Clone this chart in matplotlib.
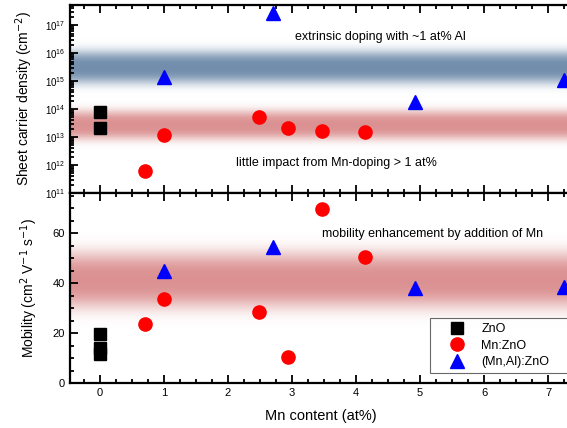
import numpy as np
import matplotlib.pyplot as plt
from matplotlib.ticker import LogLocator, MultipleLocator, FixedLocator, NullFormatter

plt.rcParams['font.family'] = ['Liberation Sans', 'DejaVu Sans']

# ZnO reference films
zno_x = [0, 0]
zno_n = [8.0e13, 2.1e13]
zno_mu_x = [0, 0, 0]
zno_mu = [19.5, 14.0, 11.5]

# Mn:ZnO
mn_x = [0.7, 1.0, 2.48, 2.93, 3.47, 4.14]
mn_n = [6.0e11, 1.2e13, 5.0e13, 2.1e13, 1.6e13, 1.5e13]
mn_mu = [23.6, 33.6, 28.4, 10.4, 69.6, 50.4]

# (Mn,Al):ZnO
mnal_x = [1.0, 2.7, 4.92, 7.25]
mnal_n = [1.4e15, 2.7e17, 1.8e14, 1.1e15]
mnal_mu = [44.8, 54.4, 38.0, 38.4]

# shaded guide bands: (center, half width) in decades / mobility units
blue_band_n = (10**15.5, 0.58)
red_band_n = (10**13.43, 0.52)
red_band_mu = (41.2, 11.0)

BLUE = (0.45, 0.56, 0.68)
RED = (0.86, 0.57, 0.57)


def add_band(ax, center, width, color, log=False):
    lo, hi = ax.get_ylim()
    if log:
        lo, hi, c = np.log10(lo), np.log10(hi), np.log10(center)
    else:
        c = center
    yy = np.linspace(lo, hi, 600)
    alpha = np.exp(-np.abs((yy - c) / width) ** 3)
    img = np.ones((600, 1, 4))
    img[:, 0, :3] = color
    img[:, 0, 3] = alpha
    ax.imshow(img, extent=[0, 1, 0, 1], transform=ax.transAxes, origin='lower',
              aspect='auto', interpolation='bilinear', zorder=0)


def style_axis(ax):
    for s in ax.spines.values():
        s.set_linewidth(1.6)
    ax.tick_params(which='both', direction='in', top=True, right=False,
                   width=1.3, labelsize=8)
    ax.tick_params(which='major', length=6)
    ax.tick_params(which='minor', length=3)
    ax.xaxis.set_major_locator(MultipleLocator(1))
    ax.xaxis.set_minor_locator(MultipleLocator(0.25))


fig = plt.figure(figsize=(5.67, 4.28), dpi=100)
left = 70 / 567
width = (572 - 70) / 567
ax1 = fig.add_axes([left, 1 - 193 / 428, width, 188 / 428])
ax2 = fig.add_axes([left, 1 - 383 / 428, width, 190 / 428], sharex=ax1)

xlim = (-0.47, 7.375)

# carrier density panel
ax1.set_yscale('log')
ax1.set_xlim(*xlim)
ax1.set_ylim(1e11, 10**17.72)
add_band(ax1, blue_band_n[0], blue_band_n[1], BLUE, log=True)
add_band(ax1, red_band_n[0], red_band_n[1], RED, log=True)
ax1.plot(zno_x, zno_n, 's', color='black', ms=9, zorder=3)
ax1.plot(mn_x, mn_n, 'o', color='red', ms=9.5, zorder=3)
ax1.plot(mnal_x, mnal_n, '^', color='blue', ms=10, zorder=3, clip_on=False)
style_axis(ax1)
ax1.yaxis.set_major_locator(FixedLocator([10.0**k for k in range(11, 18)]))
ax1.yaxis.set_minor_locator(LogLocator(base=10, subs=np.arange(2, 10), numticks=20))
ax1.yaxis.set_minor_formatter(NullFormatter())
ax1.tick_params(axis='y', labelsize=7)
ax1.tick_params(axis='x', labelbottom=False)
ax1.set_ylabel('Sheet carrier density (cm$^{-2}$)', fontsize=10, labelpad=7)
ax1.text(4.375, 10**16.57, 'extrinsic doping with ~1 at% Al', ha='center',
         va='center', fontsize=9)
ax1.text(3.7, 10**12.07, 'little impact from Mn-doping > 1 at%', ha='center',
         va='center', fontsize=9)

# mobility panel
ax2.set_ylim(0, 76)
add_band(ax2, red_band_mu[0], red_band_mu[1], RED)
ax2.plot(zno_mu_x, zno_mu, 's', color='black', ms=9, zorder=3, label='ZnO')
ax2.plot(mn_x, mn_mu, 'o', color='red', ms=9.5, zorder=3, label='Mn:ZnO')
ax2.plot(mnal_x, mnal_mu, '^', color='blue', ms=10, zorder=3, clip_on=False,
         label='(Mn,Al):ZnO')
style_axis(ax2)
ax2.yaxis.set_major_locator(MultipleLocator(20))
ax2.yaxis.set_minor_locator(MultipleLocator(5))
ax2.set_ylabel('Mobility (cm$^2$ V$^{-1}$ s$^{-1}$)', fontsize=10, labelpad=9)
ax2.set_xlabel('Mn content (at%)', fontsize=10.5, labelpad=8)
ax2.text(5.2, 59.6, 'mobility enhancement by addition of Mn', ha='center',
         va='center', fontsize=9)
leg = ax2.legend(loc='lower left', bbox_to_anchor=(0.717, 0.053, 0.3, 0.2),
                 mode='expand', fontsize=9, frameon=True, fancybox=False,
                 edgecolor='#444444', borderpad=0.4, handlelength=3.6,
                 handletextpad=0.1, labelspacing=0.35, borderaxespad=0)
leg.get_frame().set_linewidth(0.8)
leg.set_zorder(5)

fig.savefig('out.png', dpi=100)
